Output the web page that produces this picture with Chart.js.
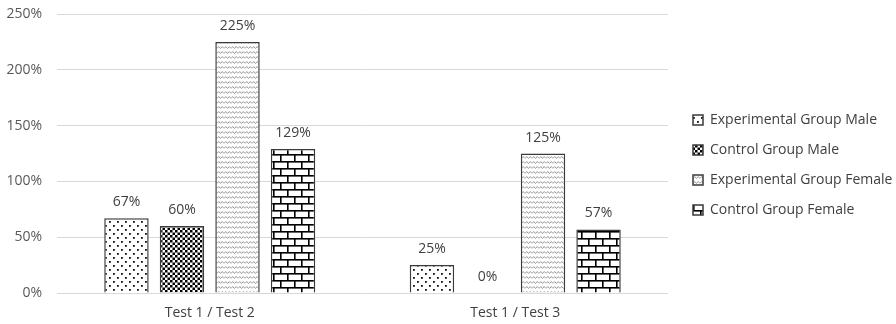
<!DOCTYPE html>
<html>
<head>
<meta charset="utf-8">
<script src="https://cdn.jsdelivr.net/npm/chart.js@4/dist/chart.umd.min.js"></script>
<style>
  html, body { margin: 0; padding: 0; background: #ffffff; }
  #wrap { width: 896px; height: 324px; position: relative; }
</style>
</head>
<body>
<div id="wrap"><canvas id="chart" width="896" height="324"></canvas></div>
<script>
// Ratios of test results per group
const categories = ['Test 1 / Test 2', 'Test 1 / Test 3'];
const seriesNames = [
  'Experimental Group Male',
  'Control Group Male',
  'Experimental Group Female',
  'Control Group Female'
];
const experimentalMale = [67, 25];
const controlMale = [60, 0];
const experimentalFemale = [225, 125];
const controlFemale = [129, 57];
const yTicks = [0, 50, 100, 150, 200, 250];

const FONT = '"Open Sans", "Liberation Sans", sans-serif';

// Fill patterns for the bars
function makeTile(w, h, draw) {
  const c = document.createElement('canvas');
  c.width = w; c.height = h;
  const g = c.getContext('2d');
  g.fillStyle = '#ffffff';
  g.fillRect(0, 0, w, h);
  draw(g);
  return c;
}
const tiles = [
  // sparse dots
  makeTile(8, 8, g => {
    g.fillStyle = '#111111';
    g.fillRect(1, 1, 1.8, 1.8);
    g.fillRect(5, 5, 1.8, 1.8);
  }),
  // large checkerboard
  makeTile(5, 5, g => {
    g.fillStyle = '#000000';
    g.fillRect(0, 0, 2.5, 2.5);
    g.fillRect(2.5, 2.5, 2.5, 2.5);
  }),
  // wave
  makeTile(7, 5, g => {
    g.strokeStyle = '#9a9a9a';
    g.lineWidth = 1;
    g.beginPath();
    g.moveTo(0, 3.5);
    g.lineTo(1.75, 1.5);
    g.lineTo(3.5, 3.5);
    g.lineTo(5.25, 1.5);
    g.lineTo(7, 3.5);
    g.stroke();
  }),
  // horizontal brick
  makeTile(14, 14, g => {
    g.fillStyle = '#000000';
    g.fillRect(0, 0, 14, 1.6);
    g.fillRect(0, 7, 14, 1.6);
    g.fillRect(0, 0, 1.6, 7);
    g.fillRect(7, 7, 1.6, 7);
  })
];
const ctx = document.getElementById('chart').getContext('2d');
const patterns = tiles.map(t => ctx.createPattern(t, 'repeat'));

const values = [experimentalMale, controlMale, experimentalFemale, controlFemale];

// Percentage labels above each bar
const valueLabels = {
  id: 'valueLabels',
  afterDatasetsDraw(chart) {
    const c = chart.ctx;
    c.save();
    c.font = '14px ' + FONT;
    c.fillStyle = '#404040';
    c.textAlign = 'center';
    c.textBaseline = 'alphabetic';
    chart.data.datasets.forEach((ds, di) => {
      const meta = chart.getDatasetMeta(di);
      meta.data.forEach((bar, i) => {
        c.fillText(ds.data[i] + '%', bar.x, bar.y - 12);
      });
    });
    c.restore();
  }
};

// Fixed legend column on the right
const legendPlacement = {
  id: 'legendPlacement',
  beforeInit(chart) {
    const lg = chart.legend;
    const fit = lg.fit;
    lg.fit = function () {
      fit.call(this);
      this.width = 228;
    };
  },
  afterLayout(chart) {
    const lg = chart.legend;
    lg.left += 9; lg.right += 9;
    lg.top -= 4; lg.bottom -= 4;
  }
};

new Chart(ctx, {
  type: 'bar',
  data: {
    labels: categories,
    datasets: seriesNames.map((name, i) => ({
      label: name,
      data: values[i],
      backgroundColor: patterns[i],
      borderColor: '#3a3a3a',
      borderWidth: 1.5,
      categoryPercentage: 0.727,
      barPercentage: 0.8
    }))
  },
  options: {
    responsive: false,
    animation: false,
    devicePixelRatio: 1,
    layout: { padding: { top: 14, left: 0, right: 0, bottom: 0 } },
    plugins: {
      tooltip: { enabled: false },
      legend: {
        position: 'right',
        labels: {
          font: { family: FONT, size: 14 },
          color: '#404040',
          boxWidth: 10,
          boxHeight: 10,
          padding: 16
        }
      }
    },
    scales: {
      x: {
        grid: { display: false },
        border: { display: false },
        ticks: {
          font: { family: FONT, size: 14 },
          color: '#404040',
          padding: 4
        },
        afterFit(s) { s.height = 31; }
      },
      y: {
        min: 0,
        max: 250,
        afterBuildTicks(s) { s.ticks = yTicks.map(v => ({ value: v })); },
        grid: { color: '#d9d9d9', lineWidth: 1, drawTicks: false },
        border: { display: false },
        ticks: {
          font: { family: FONT, size: 14 },
          color: '#595959',
          padding: 15,
          callback: v => v + '%'
        },
        afterFit(s) {
          s.width = 57;
          s.paddingTop = 0;
          s.paddingBottom = 0;
        }
      }
    }
  },
  plugins: [valueLabels, legendPlacement]
});
</script>
</body>
</html>
